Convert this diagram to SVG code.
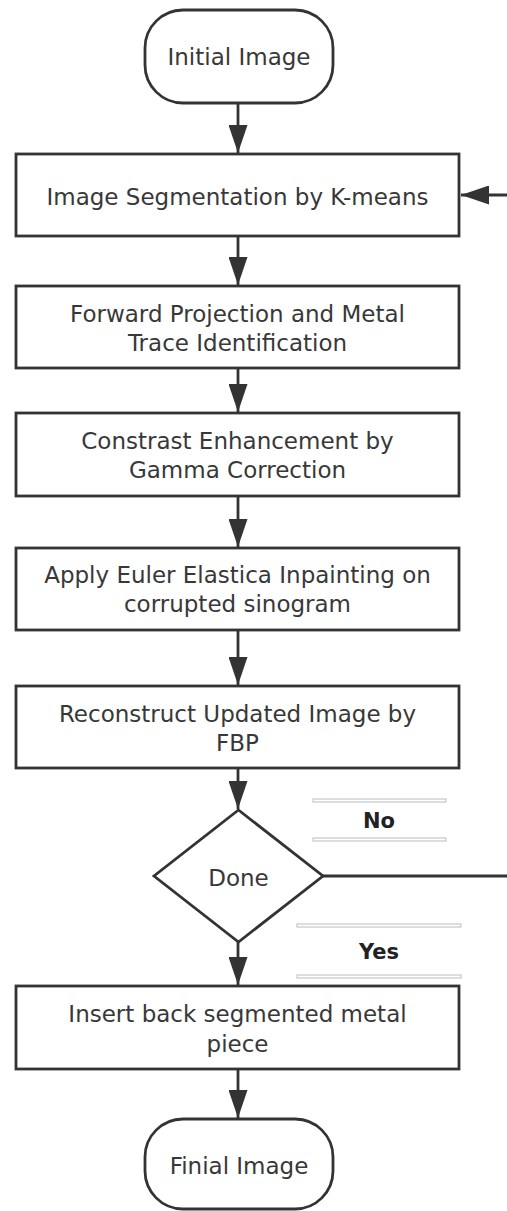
<svg xmlns="http://www.w3.org/2000/svg" width="507" height="1211" viewBox="0 0 507 1211">
<style>
.shape{fill:#fff;stroke:#333;stroke-width:2.8}
.t{font-family:"DejaVu Sans","Open Sans",sans-serif;font-size:23px;fill:#383838;text-anchor:middle}
.b{font-family:"DejaVu Sans","Open Sans",sans-serif;font-size:21px;font-weight:bold;fill:#222;text-anchor:middle}
.conn{fill:none;stroke:#333;stroke-width:2.8}
.lbl{fill:#fff;stroke:#bbb;stroke-width:1}
</style>
<defs>
<marker id="ah" markerUnits="userSpaceOnUse" markerWidth="28" markerHeight="19" refX="28" refY="9.5" orient="auto">
<path d="M0,0 L28,9.5 L0,19 z" fill="#333"/>
</marker>
</defs>
<rect width="507" height="1211" fill="#fff"/>
<g id="connectors">
<path class="conn" d="M238,103 V153" marker-end="url(#ah)"/>
<path class="conn" d="M238,236 V285" marker-end="url(#ah)"/>
<path class="conn" d="M238,368 V412" marker-end="url(#ah)"/>
<path class="conn" d="M238,496 V547" marker-end="url(#ah)"/>
<path class="conn" d="M238,630 V685" marker-end="url(#ah)"/>
<path class="conn" d="M238,768 V809" marker-end="url(#ah)"/>
<path class="conn" d="M238,942 V985" marker-end="url(#ah)"/>
<path class="conn" d="M238,1069 V1118" marker-end="url(#ah)"/>
<path class="conn" d="M323,876 H520 V195 H461" marker-end="url(#ah)"/>
</g>
<g id="label-no">
<rect class="lbl" x="313" y="799" width="133" height="3"/>
<rect class="lbl" x="313" y="838" width="133" height="3"/>
<text class="b" x="379" y="828">No</text>
</g>
<g id="label-yes">
<rect class="lbl" x="297" y="924" width="164" height="3"/>
<rect class="lbl" x="297" y="975" width="164" height="3"/>
<text class="b" x="379" y="959">Yes</text>
</g>
<g id="start">
<rect class="shape" x="145" y="10" width="188" height="93" rx="38" ry="38"/>
<text class="t" x="239" y="65">Initial Image</text>
</g>
<g id="segmentation">
<rect class="shape" x="16" y="154" width="443" height="82"/>
<text class="t" x="237.5" y="205">Image Segmentation by K-means</text>
</g>
<g id="projection">
<rect class="shape" x="16" y="286" width="443" height="82"/>
<text class="t" x="237.5" y="322">Forward Projection and Metal<tspan x="237.5" dy="29">Trace Identification</tspan></text>
</g>
<g id="contrast">
<rect class="shape" x="16" y="413" width="443" height="83"/>
<text class="t" x="237.5" y="449">Constrast Enhancement by<tspan x="237.5" dy="29">Gamma Correction</tspan></text>
</g>
<g id="inpainting">
<rect class="shape" x="16" y="548" width="443" height="82"/>
<text class="t" x="237.5" y="583">Apply Euler Elastica Inpainting on<tspan x="237.5" dy="29">corrupted sinogram</tspan></text>
</g>
<g id="reconstruct">
<rect class="shape" x="16" y="686" width="443" height="82"/>
<text class="t" x="237.5" y="722">Reconstruct Updated Image by<tspan x="237.5" dy="29">FBP</tspan></text>
</g>
<g id="done">
<polygon class="shape" points="238.5,810 323,876 238.5,942 154,876"/>
<text class="t" x="238.5" y="886">Done</text>
</g>
<g id="insert">
<rect class="shape" x="16" y="986" width="443" height="83"/>
<text class="t" x="237.5" y="1022">Insert back segmented metal<tspan x="237.5" dy="30">piece</tspan></text>
</g>
<g id="end">
<rect class="shape" x="145" y="1119" width="188" height="90" rx="38" ry="38"/>
<text class="t" x="239" y="1174">Finial Image</text>
</g>
</svg>
